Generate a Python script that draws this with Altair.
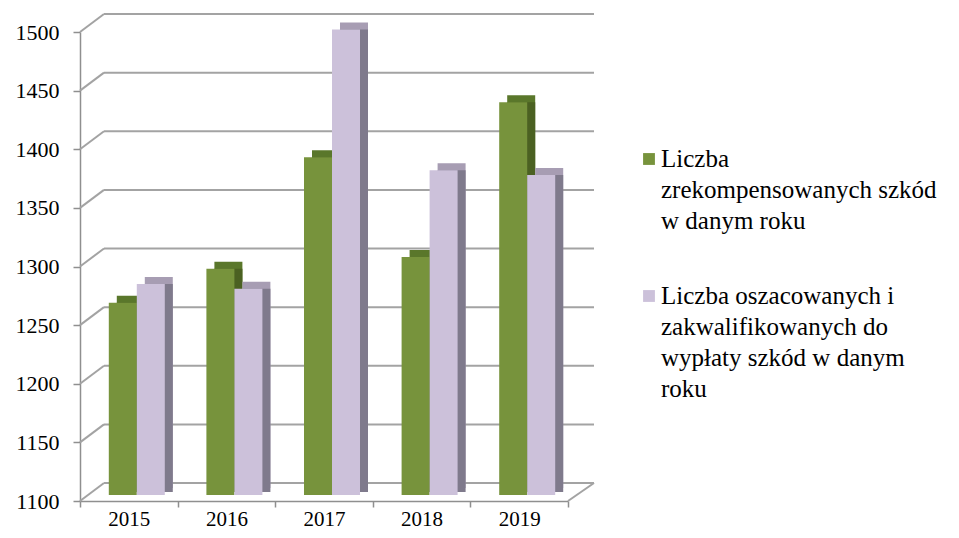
import altair as alt
import pandas as pd

# ---- data ----
years = ["2015", "2016", "2017", "2018", "2019"]
series = [
    "Liczba zrekompensowanych szkód w danym roku",
    "Liczba oszacowanych i zakwalifikowanych do wypłaty szkód w danym roku",
]
compensated = [1264, 1293, 1388, 1303, 1435]
qualified = [1280, 1276, 1497, 1377, 1373]
y_ticks = [1100, 1150, 1200, 1250, 1300, 1350, 1400, 1450, 1500]
legend_lines = [
    ["Liczba", "zrekompensowanych szkód", "w danym roku"],
    ["Liczba oszacowanych i", "zakwalifikowanych do", "wypłaty szkód w danym", "roku"],
]

# ---- tables built from the arrays ----
rows = []
for s, vals in zip(series, [compensated, qualified]):
    for yr, v in zip(years, vals):
        rows.append({"year": yr, "series": s, "value": v})
df = pd.DataFrame(rows)
ticks_df = pd.DataFrame({"v": y_ticks})
legend_df = pd.DataFrame({"series": series, "label": ["\n".join(l) for l in legend_lines]})

FONT = "'Liberation Serif', 'Times New Roman', serif"
GRID = "#a3a3a3"
AXIS = "#8f8f8f"

xscale = alt.Scale(domain=years, paddingInner=0, paddingOuter=0)
yscale = alt.Scale(domain=[1100, 1500], nice=False, zero=False)

x_axis = alt.Axis(tickBand="extent", tickSize=6, tickColor=AXIS, tickWidth=1.5,
                  domainColor=AXIS, domainWidth=1.5, labelAngle=0,
                  labelFont=FONT, labelFontSize=21, labelColor="black",
                  labelPadding=1, title=None, grid=False)
y_axis = alt.Axis(values=y_ticks, format="d", tickSize=7, tickColor=AXIS, tickWidth=1.5,
                  domainColor=AXIS, domainWidth=1.5,
                  labelFont=FONT, labelFontSize=22, labelColor="black",
                  labelPadding=14, title=None, grid=False)

# back-wall gridlines (shifted up/right for the 3D look)
back_grid = alt.Chart(ticks_df).mark_rule(color=GRID, strokeWidth=2, yOffset=-18).encode(
    y=alt.Y("v:Q", scale=yscale, axis=y_axis),
    x=alt.value(24), x2=alt.value(514),
)
side_grid = alt.Chart(ticks_df).mark_rule(color=GRID, strokeWidth=2, y2Offset=-18).encode(
    y=alt.Y("v:Q", scale=yscale, axis=y_axis), y2="v:Q",
    x=alt.value(0), x2=alt.value(24),
)
floor_edge = alt.Chart(ticks_df).transform_filter(alt.datum.v == 1100).mark_rule(
    color=GRID, strokeWidth=2, y2Offset=-18).encode(
    y=alt.Y("v:Q", scale=yscale, axis=y_axis), y2="v:Q",
    x=alt.value(488), x2=alt.value(514),
)


def bar_layer(name, color, xo, yo, y2o):
    return alt.Chart(df).transform_filter(alt.datum.series == name).mark_bar(
        width=28, color=color, xOffset=xo, yOffset=yo, y2Offset=y2o
    ).encode(
        x=alt.X("year:N", scale=xscale, axis=x_axis),
        y=alt.Y("value:Q", scale=yscale, axis=y_axis),
        y2=alt.datum(1100),
    )


green = ["#77933c", "#5a772b", "#4b6122"]
lav = ["#ccc1da", "#a79db3", "#7f7a8c"]

layers = [back_grid, side_grid, floor_edge]
for name, cols, xo in [(series[0], green, -6), (series[1], lav, 22)]:
    layers.append(bar_layer(name, cols[1], xo + 8, -13, -13))
    layers.append(bar_layer(name, cols[2], xo + 8, -6, -9))
    layers.append(bar_layer(name, cols[0], xo, -6, -6))

# manual legend
leg_pos = [(569, 127, 135), (569, 264, 272)]
for i, (name, cols) in enumerate([(series[0], green), (series[1], lav)]):
    sx, sy, ty = leg_pos[i]
    layers.append(
        alt.Chart(legend_df).transform_filter(alt.datum.series == name).mark_square(
            size=140, color=cols[0], opacity=1, filled=True
        ).encode(x=alt.value(sx), y=alt.value(sy))
    )
    layers.append(
        alt.Chart(legend_df).transform_filter(alt.datum.series == name).mark_text(
            align="left", baseline="alphabetic", font=FONT, fontSize=25,
            lineBreak="\n", lineHeight=31, color="black"
        ).encode(x=alt.value(581), y=alt.value(ty), text="label:N")
    )

chart = alt.layer(*layers).properties(
    width=488, height=469,
    autosize=alt.AutoSizeParams(type="none"),
    padding={"left": 72, "top": 24, "right": 383, "bottom": 29},
    background="white",
).configure_view(stroke=None)

chart.save("out.html", embed_options={"renderer": "svg", "actions": False})
